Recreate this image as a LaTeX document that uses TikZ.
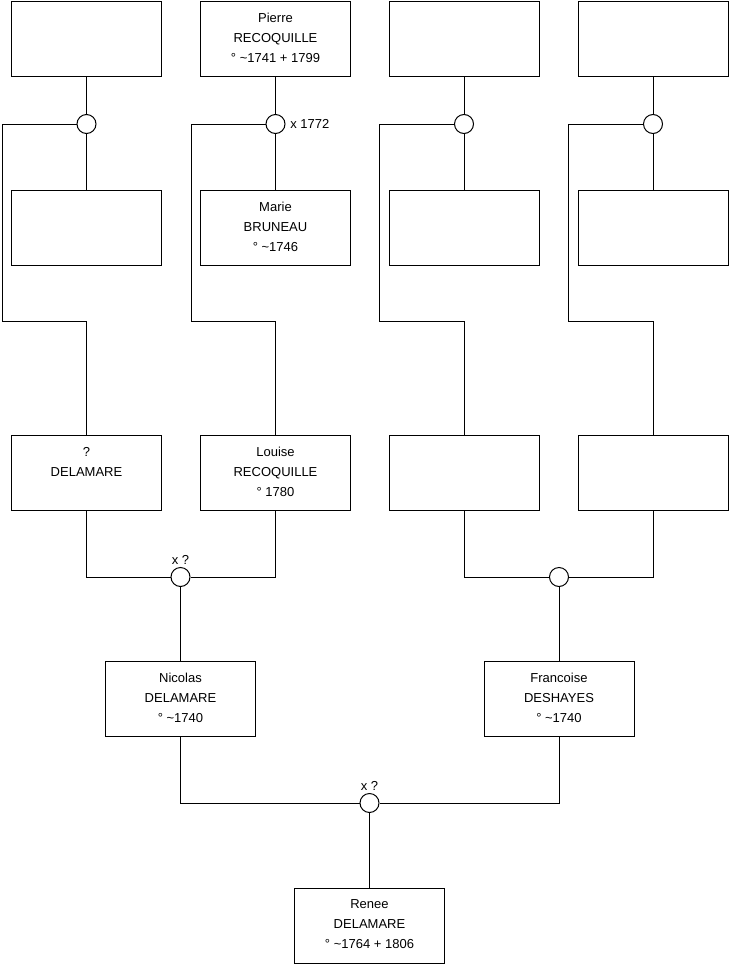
\documentclass[tikz,border=0pt]{standalone}
\usepackage{fontspec}
\setmainfont{Liberation Sans}
\newcommand{\lastl}{\rule[-1.5pt]{0pt}{1.5pt}}
\begin{document}
\begin{tikzpicture}[x=0.75pt,y=-0.75pt,
  person/.style={draw, line width=0.75pt, minimum width=112.5pt, minimum height=56.25pt,
    inner sep=0pt, align=center, font=\fontsize{9.75}{15}\selectfont, fill=white},
  union/.style={draw, circle, line width=0.75pt, minimum size=14.25pt, inner sep=0pt, fill=white},
  lbl/.style={font=\fontsize{9.75}{11}\selectfont, inner sep=0pt},
  link/.style={line width=0.75pt}]
\useasboundingbox (0,0) rectangle (740,975);

% row 1
\node[person] (a1) at (86.5,38.5) {};
\node[person] (a2) at (275.5,38.5) {Pierre\\RECOQUILLE\\° \textasciitilde1741 + 1799\lastl};
\node[person] (a3) at (464,38.5) {};
\node[person] (a4) at (653,38.5) {};
% unions row 1
\node[union] (u1) at (86.5,124) {};
\node[union] (u2) at (275.5,124) {};
\node[union] (u3) at (464,124) {};
\node[union] (u4) at (653,124) {};
\node[lbl, anchor=west] (l1) at (290,124) {x 1772};
% row 2
\node[person] (b1) at (86.5,227.5) {};
\node[person] (b2) at (275.5,227.5) {Marie\\BRUNEAU\\° \textasciitilde1746\lastl};
\node[person] (b3) at (464,227.5) {};
\node[person] (b4) at (653,227.5) {};
% row 3
\node[person] (m1) at (86.5,472.5) {?\\DELAMARE\\\phantom{0}\lastl};
\node[person] (m2) at (275.5,472.5) {Louise\\RECOQUILLE\\° 1780\lastl};
\node[person] (m3) at (464,472.5) {};
\node[person] (m4) at (653,472.5) {};
% unions row 3
\node[union] (v1) at (180.5,577) {};
\node[union] (v2) at (559,577) {};
\node[lbl, anchor=south] (l2) at (180.5,565) {x ?};
% row 4
\node[person] (n1) at (180.5,699) {Nicolas\\DELAMARE\\° \textasciitilde1740\lastl};
\node[person] (n2) at (559,699) {Francoise\\DESHAYES\\° \textasciitilde1740\lastl};
% union row 4
\node[union] (w1) at (369.5,803) {};
\node[lbl, anchor=south] (l3) at (369.5,791) {x ?};
% row 5
\node[person] (r1) at (369.5,925.5) {Renee\\DELAMARE\\° \textasciitilde1764 + 1806\lastl};

% connectors row 1 -> union -> row 2
\foreach \i in {1,2,3,4}{
  \draw[link] (a\i.south) -- (u\i.north);
  \draw[link] (u\i.south) -- (b\i.north);
}
% unions -> row 3
\draw[link] (u1.west) -| (2,321) -| (m1.north);
\draw[link] (u2.west) -| (191,321) -| (m2.north);
\draw[link] (u3.west) -| (379.5,321) -| (m3.north);
\draw[link] (u4.west) -| (568.5,321) -| (m4.north);
% row 3 -> unions
\draw[link] (m1.south) |- (v1.west);
\draw[link] (m2.south) |- (v1.east);
\draw[link] (m3.south) |- (v2.west);
\draw[link] (m4.south) |- (v2.east);
\draw[link] (v1.south) -- (n1.north);
\draw[link] (v2.south) -- (n2.north);
% row 4 -> union -> row 5
\draw[link] (n1.south) |- (w1.west);
\draw[link] (n2.south) |- (w1.east);
\draw[link] (w1.south) -- (r1.north);
\end{tikzpicture}
\end{document}
